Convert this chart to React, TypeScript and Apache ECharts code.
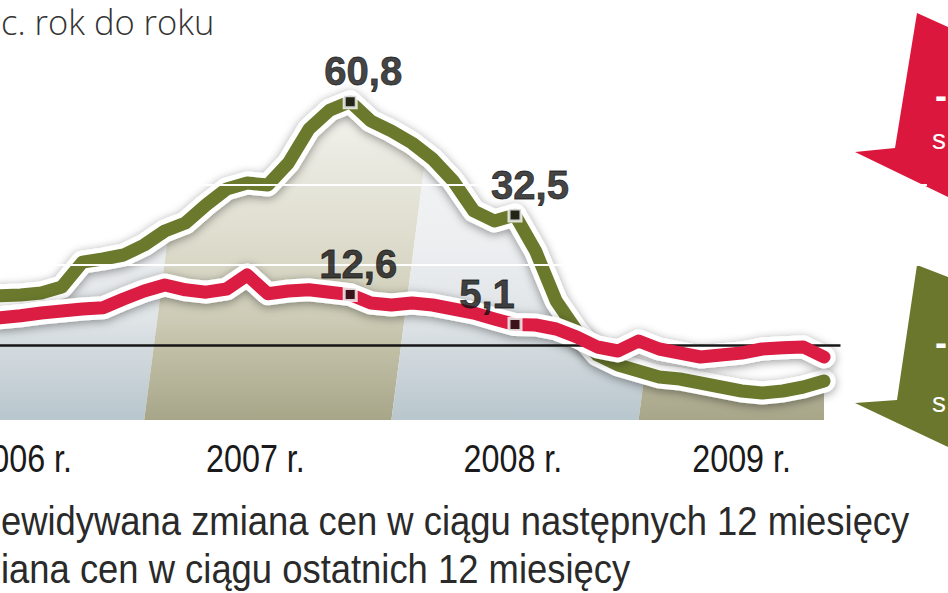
import React, { useEffect, useRef } from "react";
import * as echarts from "echarts";

// ---- data (month index: 0 = Jan 2006) ----
const firstMonth = 5;
const expectedChange = [
  12.3, 12.5, 13, 14.5, 20.7, 21.5, 22.5, 25, 28.5, 30.5, 35, 39, 40.5, 40,
  45.5, 54, 58.7, 60.8, 56, 53.5, 50.5, 46.5, 41, 33.5, 31, 32.5, 23.5, 11,
  3.5, -2.5, -5, -6.5, -8, -8.5, -9.5, -10.5, -11.5, -12, -11.5, -10.5, -9,
];
const pastChange = [
  6.8, 7.3, 8, 8.5, 9, 9.3, 11.5, 13.5, 15, 13.8, 13.2, 14, 17.5, 12.8, 13.5,
  13.8, 13.2, 12.6, 10.5, 10, 10.5, 10, 9, 8, 6.5, 5.1, 5, 4, 2, -0.5, -1.5,
  1, -1, -2, -3, -2.5, -2, -1, -0.7, -0.5, -3,
];
const highlightMonths = [22, 30];
const yearLabels = ["2006 r.", "2007 r.", "2008 r.", "2009 r."];
const yearLabelMonths = [6.1, 17.4, 29.9, 41];
const yearBandStarts = [2, 12, 24, 36];
const yearBandEnds = [12, 24, 36, 45];
const gridValues = [20, 40];
const titleText = "c. rok do roku";
const legendLines = [
  "ewidywana zmiana cen w ciągu następnych 12 miesięcy",
  "iana cen w ciągu ostatnich 12 miesięcy",
];

// ---- styling constants ----
const X_MIN = 5;
const X_MAX = 50;
const Y_MIN = -18.75;
const Y_MAX = 81.25;
const ZERO_END = 45.8;
const SKEW = 0.13;
const SANS = '"Liberation Sans", Arial, sans-serif';
const GREEN = "#6b792d";
const RED = "#db1c43";
const labelDx = [13, 15, 8, -28];

const fmt = (v: number) => v.toFixed(1).replace(".", ",");

function clipHalf(poly: number[][], f: (p: number[]) => number) {
  const out: number[][] = [];
  for (let i = 0; i < poly.length; i++) {
    const a = poly[i];
    const b = poly[(i + 1) % poly.length];
    const fa = f(a);
    const fb = f(b);
    if (fa >= 0) out.push(a);
    if (fa >= 0 !== fb >= 0) {
      const t = fa / (fa - fb);
      out.push([a[0] + t * (b[0] - a[0]), a[1] + t * (b[1] - a[1])]);
    }
  }
  return out;
}

export default function App() {
  const ref = useRef<HTMLDivElement>(null);

  useEffect(() => {
    document.body.style.margin = "0";
    const chart = echarts.init(ref.current!, undefined, { renderer: "svg" });

    const expectedPts = expectedChange.map((v, i) => [firstMonth + i, v]);
    const pastPts = pastChange.map((v, i) => [firstMonth + i, v]);
    const valueAt = (arr: number[], m: number) => arr[m - firstMonth];
    const markerData: any[] = [];
    [expectedChange, pastChange].forEach((arr) => {
      highlightMonths.forEach((m) => {
        markerData.push([m, valueAt(arr, m)]);
      });
    });

    const oliveStops = [
      { offset: 0, color: "#f6f5f0" },
      { offset: 0.16, color: "#ecebe3" },
      { offset: 0.47, color: "#dcdbcb" },
      { offset: 0.69, color: "#cdcbb5" },
      { offset: 0.77, color: "#c2c0a7" },
      { offset: 1, color: "#a8a689" },
    ];
    const blueStops = [
      { offset: 0, color: "#f6f7f8" },
      { offset: 0.47, color: "#eceef0" },
      { offset: 0.69, color: "#dfe4e7" },
      { offset: 0.77, color: "#d4dbdf" },
      { offset: 1, color: "#b8c6cd" },
    ];

    const outline = {
      color: "#ffffff",
      width: 23,
      cap: "round",
      join: "round",
      shadowColor: "rgba(0,0,0,0.4)",
      shadowBlur: 10,
      shadowOffsetY: 2,
    };

    const option: any = {
      animation: false,
      backgroundColor: "#ffffff",
      grid: {
        left: 0,
        top: 20,
        width: 927,
        height: 400,
        containLabel: false,
        outerBoundsMode: "none",
      },
      xAxis: {
        type: "value",
        min: X_MIN,
        max: X_MAX,
        axisLine: { show: false },
        axisTick: { show: false },
        splitLine: { show: false },
        axisLabel: { show: false },
      },
      yAxis: { type: "value", min: Y_MIN, max: Y_MAX, show: false },
      series: [
        {
          type: "custom",
          name: "bands",
          z: 1,
          silent: true,
          clip: true,
          data: yearBandStarts.map((s, i) => [s, yearBandEnds[i], i % 2]),
          renderItem: (params: any, api: any) => {
            const s = api.value(0);
            const e = api.value(1);
            const kind = api.value(2);
            const base = api.coord([X_MIN, Y_MIN])[1];
            const topY = api.coord([X_MIN, 62])[1];
            const top = expectedPts.map((p) => api.coord(p));
            const poly = [
              ...top,
              [top[top.length - 1][0], base],
              [top[0][0], base],
            ];
            const xs = api.coord([s, Y_MIN])[0];
            const xe = api.coord([e, Y_MIN])[0];
            let c = clipHalf(poly, (p) => p[0] - (xs + SKEW * (base - p[1])));
            c = clipHalf(c, (p) => xe + SKEW * (base - p[1]) - p[0]);
            if (c.length < 3) return null;
            return {
              type: "polygon",
              shape: { points: c },
              style: {
                fill: new echarts.graphic.LinearGradient(
                  0,
                  topY,
                  0,
                  base,
                  kind === 1 ? oliveStops : blueStops,
                  true
                ),
              },
            };
          },
          markLine: {
            silent: true,
            symbol: "none",
            label: { show: false },
            data: [
              ...gridValues.map((g) => ({
                yAxis: g,
                lineStyle: { color: "#ffffff", width: 2, type: "solid" },
              })),
              [
                { coord: [X_MIN, 0], lineStyle: { color: "#161616", width: 2.5, type: "solid" } },
                { coord: [ZERO_END, 0] },
              ],
            ],
          },
        },
        {
          type: "line",
          name: "expected-outline",
          z: 2,
          silent: true,
          symbol: "none",
          data: expectedPts,
          lineStyle: outline,
        },
        {
          type: "line",
          name: "Przewidywana zmiana cen",
          z: 3,
          silent: true,
          symbol: "none",
          data: expectedPts,
          lineStyle: { color: GREEN, width: 13, cap: "round", join: "round" },
        },
        {
          type: "line",
          name: "past-outline",
          z: 4,
          silent: true,
          symbol: "none",
          data: pastPts,
          lineStyle: outline,
        },
        {
          type: "line",
          name: "Zmiana cen",
          z: 5,
          silent: true,
          symbol: "none",
          data: pastPts,
          lineStyle: { color: RED, width: 13, cap: "round", join: "round" },
        },
        {
          type: "scatter",
          z: 6,
          silent: true,
          symbol: "rect",
          symbolSize: 12,
          itemStyle: { color: "#111111", borderColor: "#ffffff", borderWidth: 3 },
          data: markerData.map((v, i) => ({
            value: v,
            label: { offset: [labelDx[i], 0] },
          })),
          label: {
            show: true,
            position: "top",
            distance: 3,
            formatter: (p: any) => fmt(p.value[1]),
            fontSize: 40,
            lineHeight: 40,
            fontWeight: "bold",
            fontFamily: SANS,
            color: "#111111",
            textBorderColor: "#111111",
            textBorderWidth: 0.8,
          },
        },
      ],
    };

    chart.setOption(option);

    // year labels placed through the x scale
    const yearGraphics = yearLabelMonths.map((m, i) => {
      const p = chart.convertToPixel({ gridIndex: 0 }, [m, Y_MIN]) as number[];
      return {
        type: "text",
        x: p[0],
        y: p[1] + 39,
        scaleX: 0.85,
        style: {
          text: yearLabels[i],
          fontSize: 38,
          fontFamily: SANS,
          fill: "#1a1a1a",
          align: "center",
          verticalAlign: "middle",
        },
      };
    });

    const textStyle = (extra: any) => ({
      align: "left",
      verticalAlign: "middle",
      ...extra,
    });

    chart.setOption({
      graphic: [
        ...yearGraphics,
        {
          type: "text",
          x: 1,
          y: 21,
          style: textStyle({
            text: titleText,
            fontSize: 34.5,
            fontWeight: 300,
            fontFamily: '"Open Sans", "Liberation Sans", sans-serif',
            fill: "#333333",
          }),
        },
        ...legendLines.map((t, i) => ({
          type: "text",
          x: 1,
          y: 521 + i * 48,
          scaleX: 0.91,
          style: textStyle({
            text: t,
            fontSize: 40,
            fontFamily: SANS,
            fill: "#2a2a2a",
          }),
        })),
        {
          type: "polygon",
          shape: { points: [[917, 13], [948, 27], [948, 197], [855, 152], [895, 148]] },
          style: { fill: "#dc173d" },
        },
        {
          type: "polygon",
          shape: { points: [[917, 265], [948, 277], [948, 447], [855, 403], [897, 400]] },
          style: { fill: "#6a772c" },
        },
        {
          type: "text",
          x: 935,
          y: 95,
          style: textStyle({ text: "-", fontSize: 36, fontWeight: "bold", fontFamily: SANS, fill: "#ffffff" }),
        },
        {
          type: "text",
          x: 932,
          y: 139,
          style: textStyle({ text: "s", fontSize: 28, fontFamily: SANS, fill: "#ffffff" }),
        },
        {
          type: "text",
          x: 935,
          y: 342,
          style: textStyle({ text: "-", fontSize: 36, fontWeight: "bold", fontFamily: SANS, fill: "#ffffff" }),
        },
        {
          type: "text",
          x: 932,
          y: 402,
          style: textStyle({ text: "s", fontSize: 28, fontFamily: SANS, fill: "#ffffff" }),
        },
      ],
    });

    return () => chart.dispose();
  }, []);

  return (
    <div
      ref={ref}
      style={{ position: "absolute", left: 0, top: 0, width: 948, height: 593 }}
    />
  );
}
